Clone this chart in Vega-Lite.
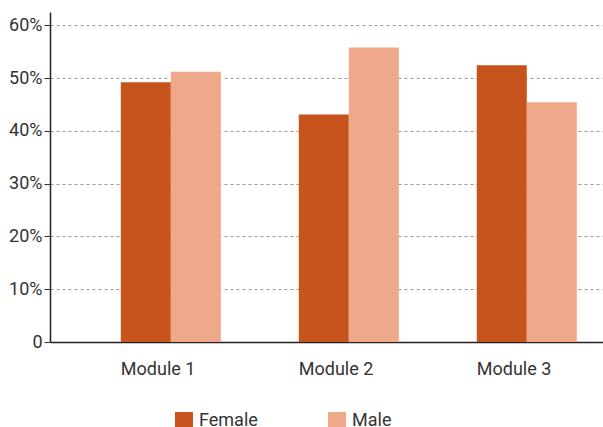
{
  "$schema": "https://vega.github.io/schema/vega-lite/v6.json",
  "width": 553,
  "height": 330,
  "autosize": {"type": "none"},
  "padding": {"left": 50, "top": 12, "right": 0, "bottom": 85},
  "background": "white",
  "config": {
    "view": {"stroke": null},
    "font": "Roboto"
  },
  "data": {
    "values": [
      {"module": "Module 1", "gender": "Female", "share": 0.492},
      {"module": "Module 1", "gender": "Male", "share": 0.512},
      {"module": "Module 2", "gender": "Female", "share": 0.431},
      {"module": "Module 2", "gender": "Male", "share": 0.558},
      {"module": "Module 3", "gender": "Female", "share": 0.524},
      {"module": "Module 3", "gender": "Male", "share": 0.454}
    ]
  },
  "mark": {"type": "bar"},
  "encoding": {
    "x": {
      "field": "module",
      "type": "nominal",
      "sort": null,
      "scale": {"paddingInner": 0.438, "paddingOuter": 0.2725, "align": 0.73},
      "axis": {
        "title": null,
        "labelAngle": 0,
        "labelAlign": "left",
        "labelOffset": -50,
        "labelFontSize": 18,
        "labelColor": "#333333",
        "labelPadding": 18,
        "ticks": false,
        "domainColor": "#222222",
        "domainWidth": 1.5
      }
    },
    "xOffset": {
      "field": "gender",
      "type": "nominal",
      "sort": ["Female", "Male"],
      "scale": {"paddingInner": 0, "paddingOuter": 0}
    },
    "y": {
      "field": "share",
      "type": "quantitative",
      "scale": {"domain": [0, 0.625], "nice": false},
      "axis": {
        "title": null,
        "values": [0, 0.1, 0.2, 0.3, 0.4, 0.5, 0.6],
        "labelExpr": "datum.value == 0 ? '0' : format(datum.value, '.0%')",
        "labelFontSize": 18,
        "labelColor": "#333333",
        "labelPadding": 2,
        "tickSize": 6,
        "tickColor": "#333333",
        "domainColor": "#222222",
        "domainWidth": 1.5,
        "grid": true,
        "gridColor": "#999999",
        "gridDash": [3, 3],
        "gridWidth": 1
      }
    },
    "color": {
      "field": "gender",
      "type": "nominal",
      "scale": {"domain": ["Female", "Male"], "range": ["#C7531D", "#EFA889"]},
      "legend": {
        "title": null,
        "orient": "none",
        "direction": "horizontal",
        "legendX": 125,
        "legendY": 400,
        "padding": 0,
        "symbolType": "square",
        "symbolSize": 324,
        "symbolStrokeWidth": 0,
        "symbolOpacity": 1,
        "labelFontSize": 18,
        "labelColor": "#333333",
        "labelOffset": 6,
        "columnPadding": 70
      }
    }
  }
}
